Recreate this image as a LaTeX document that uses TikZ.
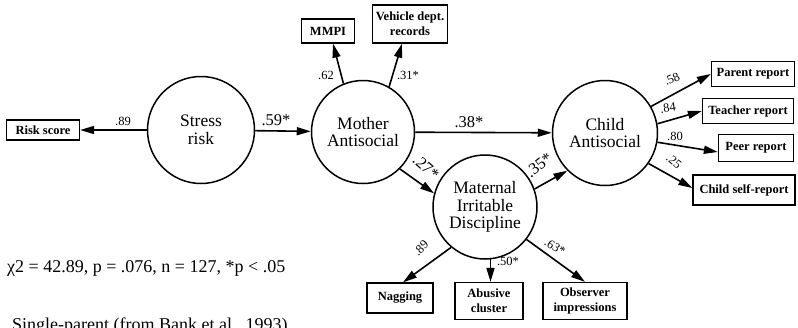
\documentclass[tikz,border=0pt]{standalone}
\usepackage{fontspec}
\setmainfont{Liberation Serif}
\usetikzlibrary{arrows.meta}
\begin{document}
\begin{tikzpicture}[x=1pt,y=-1pt,
  latent/.style={circle,draw,line width=1.5pt,minimum size=#1,inner sep=0pt,align=center,
    font=\fontsize{17.5}{17.5}\selectfont},
  obs/.style={draw,line width=1.3pt,align=center,inner sep=0pt,
    font=\bfseries\fontsize{12.5}{15}\selectfont},
  arr/.style={-{Triangle[length=14pt,width=8pt]},line width=1.6pt},
  lab/.style={inner sep=0pt,font=\fontsize{12.5}{13}\selectfont},
  biglab/.style={inner sep=0pt,font=\fontsize{16.5}{17}\selectfont},
  note/.style={inner sep=0pt,font=\fontsize{18}{19}\selectfont}]
\useasboundingbox (0,0) rectangle (798,327);

% latent variables
\node[latent=107pt] (SR) at (201,130) {Stress\\risk};
\node[latent=103pt] (MA) at (363,132) {Mother\\Antisocial};
\node[latent=105pt] (CA) at (605,133) {Child\\Antisocial};
\node[latent=104pt] (MID) at (485,207) {Maternal\\Irritable\\Discipline};

% observed variables
\node[obs,minimum width=73pt,minimum height=20pt] (RS) at (43,130) {Risk score};
\node[obs,minimum width=53pt,minimum height=24pt] (MMPI) at (328,31) {MMPI};
\node[obs,minimum width=75pt,minimum height=38pt] (VDR) at (410,24) {Vehicle dept.\\records};
\node[obs,minimum width=83pt,minimum height=25pt] (PR) at (753,74) {Parent report};
\node[obs,minimum width=91pt,minimum height=25pt] (TR) at (748,111) {Teacher report};
\node[obs,minimum width=75pt,minimum height=27pt] (PeR) at (756,148) {Peer report};
\node[obs,minimum width=102pt,minimum height=30pt] (CSR) at (744,190) {Child self-report};
\node[obs,minimum width=66pt,minimum height=30pt] (NAG) at (400,298) {Nagging};
\node[obs,minimum width=68pt,minimum height=37pt] (AC) at (489,301) {Abusive\\cluster};
\node[obs,minimum width=84pt,minimum height=37pt] (OI) at (585,301) {Observer\\impressions};

% connectors
\draw[arr] (SR) -- (RS);
\draw[arr] (SR) -- (MA);
\draw[arr] (MA.112) -- ([xshift=5pt]MMPI.south);
\draw[arr] (MA.60) -- ([xshift=-8pt]VDR.south);
\draw[arr] (MA) -- (CA);
\draw[arr] (MA.-45) -- (MID.165);
\draw[arr] (MID.20) -- (CA.225);
\draw[arr] (CA.30) -- (PR.west);
\draw[arr] (CA.10) -- (TR.west);
\draw[arr] (CA.-10) -- ([yshift=-4pt]PeR.west);
\draw[arr] (CA.-35) -- ([yshift=2pt]CSR.west);
\draw[arr] (MID.-130) -- ([xshift=3pt]NAG.north);
\coordinate (abtop) at (MID.-84 |- AC.north);
\draw[arr] (MID.-84) -- (abtop);
\draw[arr] (MID.-38) -- (OI.north);

% coefficients
\node[lab] (c1) at (123,121) {.89};
\node[biglab] (c2) at (276,120) {.59*};
\node[lab] (c3) at (326,75) {.62};
\node[lab] (c4) at (408,75) {.31*};
\node[biglab] (c5) at (469,122) {.38*};
\node[biglab,rotate=-42] (c6) at (426,167) {.27*};
\node[biglab,rotate=38] (c7) at (539,165) {.35*};
\node[lab,rotate=25] (c8) at (672,79) {.58};
\node[lab,rotate=8] (c9) at (668,108) {.84};
\node[lab] (c10) at (675,136) {.80};
\node[lab,rotate=-40] (c11) at (674,161) {.25};
\node[lab,rotate=45] (c12) at (421,248) {.89};
\node[lab] (c13) at (508,261) {.50*};
\node[lab,rotate=-32] (c14) at (555,247) {.63*};

% notes
\node[note,anchor=west] (fit) at (7,268) {χ2 = 42.89, p = .076, n = 127, *p < .05};
\node[note,anchor=base west] (src) at (12,330) {Single-parent (from Bank et al., 1993)};
\end{tikzpicture}
\end{document}
